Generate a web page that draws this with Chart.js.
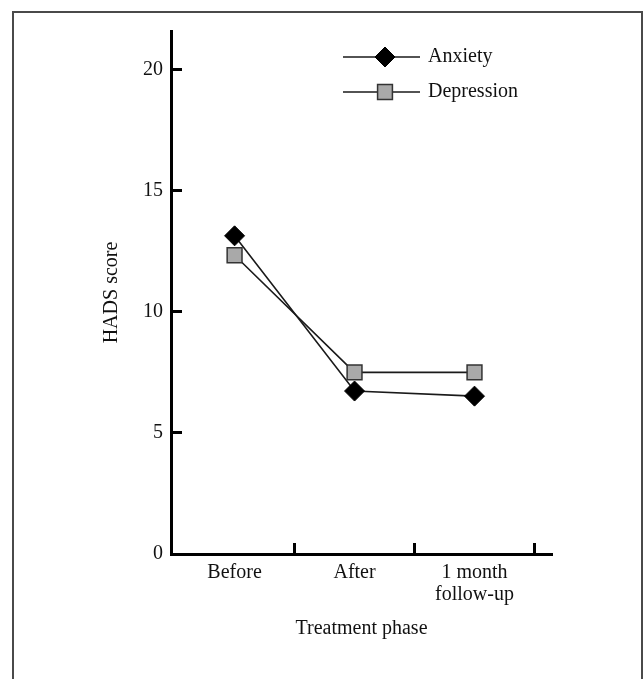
<!DOCTYPE html>
<html>
<head>
<meta charset="utf-8">
<script src="https://cdn.jsdelivr.net/npm/chart.js@4/dist/chart.umd.min.js"></script>
<style>
  html, body { margin: 0; padding: 0; background: #fff; overflow: hidden; }
  #frame { position: absolute; left: 12px; top: 11px; width: 627px; height: 700px;
           border-top: 2px solid #4a4a4a; border-left: 2px solid #4a4a4a; border-right: 2px solid #4a4a4a; }
  #c { position: absolute; left: 0; top: 0; }
</style>
</head>
<body>
<div id="frame"></div>
<canvas id="c" width="643" height="679"></canvas>
<script>
// ---- data ----
const categories = ['Before', 'After', ['1 month', 'follow-up']];
const categoryPositions = [1, 2, 3];
const phaseBoundaries = [1.5, 2.5, 3.5];
const anxiety = [13.14, 6.73, 6.52];
const depression = [12.34, 7.5, 7.5];
const yTicks = [0, 5, 10, 15, 20];
const seriesNames = ['Anxiety', 'Depression'];

const FONT = '"Liberation Serif", "Times New Roman", serif';
Chart.defaults.font.family = FONT;
Chart.defaults.font.size = 20;
Chart.defaults.color = '#111';

const toPoints = vals => vals.map((v, i) => ({ x: categoryPositions[i], y: v }));

const insetLegend = {
  id: 'insetLegend',
  afterDraw(chart) {
    const { ctx, chartArea } = chart;
    chart.data.datasets.forEach((ds, i) => {
      const y = chartArea.top + 26 + i * 35;
      const x0 = chartArea.left + 172, x1 = x0 + 77, xm = x0 + 42;
      ctx.save();
      ctx.strokeStyle = ds.borderColor;
      ctx.lineWidth = ds.borderWidth;
      ctx.beginPath(); ctx.moveTo(x0, y); ctx.lineTo(x1, y); ctx.stroke();
      ctx.fillStyle = ds.pointBackgroundColor;
      ctx.strokeStyle = ds.pointBorderColor;
      ctx.lineWidth = ds.pointBorderWidth;
      Chart.helpers.drawPoint(ctx, { pointStyle: ds.pointStyle, radius: ds.pointRadius, borderWidth: ds.pointBorderWidth, rotation: 0 }, xm, y);
      ctx.fillStyle = '#111';
      ctx.font = '20px ' + FONT;
      ctx.textBaseline = 'middle';
      ctx.textAlign = 'left';
      ctx.fillText(ds.label, x1 + 8, y);
      ctx.restore();
    });
  }
};

new Chart(document.getElementById('c'), {
  type: 'line',
  data: {
    datasets: [
      { label: seriesNames[0], data: toPoints(anxiety), borderColor: '#1a1a1a', borderWidth: 1.6,
        pointStyle: 'rectRot', pointRadius: 10, pointBackgroundColor: '#000', pointBorderColor: '#000', pointBorderWidth: 1 },
      { label: seriesNames[1], data: toPoints(depression), borderColor: '#1a1a1a', borderWidth: 1.6,
        pointStyle: 'rect', pointRadius: 10.5, pointBackgroundColor: '#a9a9a9', pointBorderColor: '#333', pointBorderWidth: 1.5 }
    ]
  },
  options: {
    responsive: false,
    animation: false,
    layout: { padding: { top: 31, right: 91, bottom: 0, left: 0 } },
    plugins: { legend: { display: false }, tooltip: { enabled: false } },
    scales: {
      x: {
        type: 'linear',
        min: 0.47,
        max: 3.646,
        afterFit(scale) { scale.height = 125; },
        afterBuildTicks(scale) {
          scale.ticks = categoryPositions.concat(phaseBoundaries).sort((a, b) => a - b).map(v => ({ value: v }));
        },
        ticks: {
          autoSkip: false, maxRotation: 0, padding: 19,
          font: { size: 20, lineHeight: 1.1 },
          callback(v) { const i = categoryPositions.indexOf(v); return i >= 0 ? categories[i] : ''; }
        },
        grid: {
          drawOnChartArea: false, drawTicks: true, tickLength: -11, tickWidth: 3,
          tickColor: ctx => (phaseBoundaries.includes(ctx.tick && ctx.tick.value) ? '#000' : 'rgba(0,0,0,0)')
        },
        border: { display: true, color: '#000', width: 3 },
        title: { display: true, text: 'Treatment phase', font: { size: 20 }, padding: { top: 0, bottom: 38 } }
      },
      y: {
        type: 'linear',
        min: 0,
        max: 21.6,
        afterFit(scale) { scale.width = 171; },
        afterBuildTicks(scale) { scale.ticks = yTicks.map(v => ({ value: v })); },
        ticks: { padding: 19, font: { size: 20 } },
        grid: { drawOnChartArea: false, drawTicks: true, tickLength: -11, tickWidth: 3, tickColor: '#000' },
        border: { display: true, color: '#000', width: 3 },
        title: { display: true, text: 'HADS score', font: { size: 20 }, padding: { top: 100, bottom: 0 } }
      }
    }
  },
  plugins: [insetLegend]
});
</script>
</body>
</html>
